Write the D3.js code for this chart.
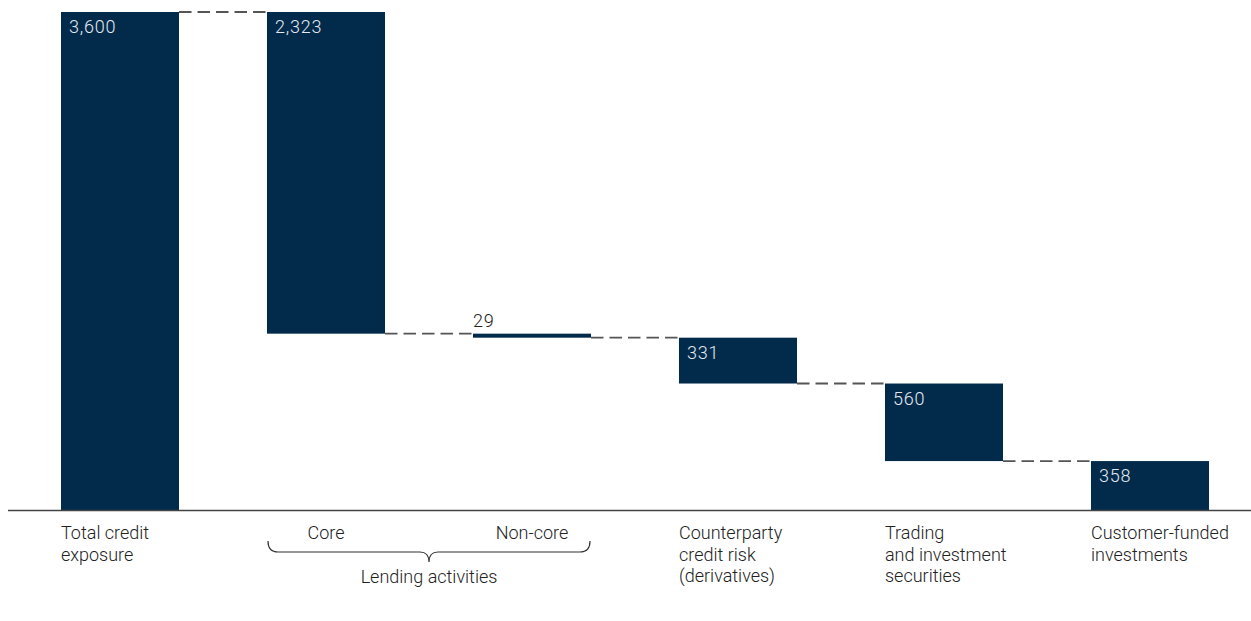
<!DOCTYPE html>
<html>
<head>
<meta charset="utf-8">
<script src="https://cdn.jsdelivr.net/npm/d3@7"></script>
<style>
  html, body { margin: 0; padding: 0; background: #ffffff; }
  svg { display: block; }
  text { font-family: Roboto, "Noto Sans", sans-serif; font-weight: 300; }
</style>
</head>
<body>
<svg id="chart" width="1251" height="621"></svg>
<script>
// Credit exposure breakdown (waterfall)
const categories = ["total", "core", "noncore", "counterparty", "trading", "customer"];
const categoryLines = [
  ["Total credit", "exposure"],
  ["Core"],
  ["Non-core"],
  ["Counterparty", "credit risk", "(derivatives)"],
  ["Trading", "and investment", "securities"],
  ["Customer-funded", "investments"]
];
const values = [3600, 2323, 29, 331, 560, 358];
const valueLabels = ["3,600", "2,323", "29", "331", "560", "358"];
const groupLabel = "Lending activities";
const groupMembers = ["core", "noncore"];

const W = 1251, H = 621;
const svg = d3.select("#chart");

const BAR = "#012a4b";
const AXIS_Y = 510.5;

const x = d3.scaleBand()
  .domain(categories)
  .range([17, 1253])
  .paddingInner(0.427)
  .paddingOuter(0.2135);

const y = d3.scaleLinear()
  .domain([0, 3600])
  .range([AXIS_Y, 12]);

// Running levels: first bar is the total, the rest step down from it
const bars = [];
let level = values[0];
categories.forEach((c, i) => {
  if (i === 0) {
    bars.push({ key: c, top: values[0], bottom: 0, value: values[0], label: valueLabels[i] });
  } else {
    const top = level;
    const bottom = level - values[i];
    bars.push({ key: c, top, bottom, value: values[i], label: valueLabels[i] });
    level = bottom;
  }
});

// Dashed connectors between consecutive bars
const connectors = [];
for (let i = 0; i < bars.length - 1; i++) {
  const a = bars[i], b = bars[i + 1];
  const lvl = i === 0 ? a.top : a.bottom;
  connectors.push({ x1: x(a.key) + x.bandwidth(), x2: x(b.key), y: y(lvl) });
}

svg.append("g")
  .selectAll("line")
  .data(connectors)
  .join("line")
  .attr("x1", d => d.x1)
  .attr("x2", d => d.x2)
  .attr("y1", d => d.y)
  .attr("y2", d => d.y)
  .attr("stroke", "#555")
  .attr("stroke-width", 1.8)
  .attr("stroke-dasharray", "12.5,6");

// Bars
svg.append("g")
  .selectAll("rect")
  .data(bars)
  .join("rect")
  .attr("x", d => x(d.key))
  .attr("width", x.bandwidth())
  .attr("y", d => y(d.top))
  .attr("height", d => Math.max(0, y(Math.max(0, d.bottom)) - y(d.top)))
  .attr("fill", BAR);

// Value labels: inside tall bars, above thin ones
svg.append("g")
  .selectAll("text")
  .data(bars)
  .join("text")
  .attr("x", d => {
    const inside = y(d.bottom) - y(d.top) > 30;
    return x(d.key) + (inside ? 8 : 0);
  })
  .attr("y", d => {
    const inside = y(d.bottom) - y(d.top) > 30;
    return inside ? y(d.top) + 21 : y(d.top) - 7;
  })
  .attr("fill", d => (y(d.bottom) - y(d.top) > 30 ? "#e4e9ef" : "#222"))
  .attr("font-size", 18)
  .attr("letter-spacing", "0.8px")
  .text(d => d.label);

// Baseline
svg.append("line")
  .attr("x1", 8)
  .attr("x2", W)
  .attr("y1", AXIS_Y)
  .attr("y2", AXIS_Y)
  .attr("stroke", "#444")
  .attr("stroke-width", 1.5);

// Category labels
const lblG = svg.append("g");
categories.forEach((c, i) => {
  const grouped = groupMembers.includes(c);
  const t = lblG.append("text")
    .attr("font-size", 18)
    .attr("fill", "#222")
    .attr("text-anchor", grouped ? "middle" : "start");
  const lx = grouped ? x(c) + x.bandwidth() / 2 : x(c);
  categoryLines[i].forEach((line, j) => {
    t.append("tspan")
      .attr("x", lx)
      .attr("y", 539 + j * 21.5)
      .text(line);
  });
});

// Brace under the grouped categories
const bx0 = x(groupMembers[0]) + 1;
const bx1 = x(groupMembers[groupMembers.length - 1]) + x.bandwidth() - 1;
const bm = (bx0 + bx1) / 2;
const yTop = 541, yMid = 552, yTip = 562;
const p = d3.path();
p.moveTo(bx0, yTop);
p.quadraticCurveTo(bx0, yMid, bx0 + 10, yMid);
p.lineTo(bm - 9, yMid);
p.quadraticCurveTo(bm, yMid, bm, yTip);
p.quadraticCurveTo(bm, yMid, bm + 9, yMid);
p.lineTo(bx1 - 10, yMid);
p.quadraticCurveTo(bx1, yMid, bx1, yTop);
svg.append("path")
  .attr("d", p.toString())
  .attr("fill", "none")
  .attr("stroke", "#333")
  .attr("stroke-width", 1.2);

svg.append("text")
  .attr("x", bm)
  .attr("y", 583)
  .attr("text-anchor", "middle")
  .attr("font-size", 18)
  .attr("fill", "#222")
  .text(groupLabel);
</script>
</body>
</html>
